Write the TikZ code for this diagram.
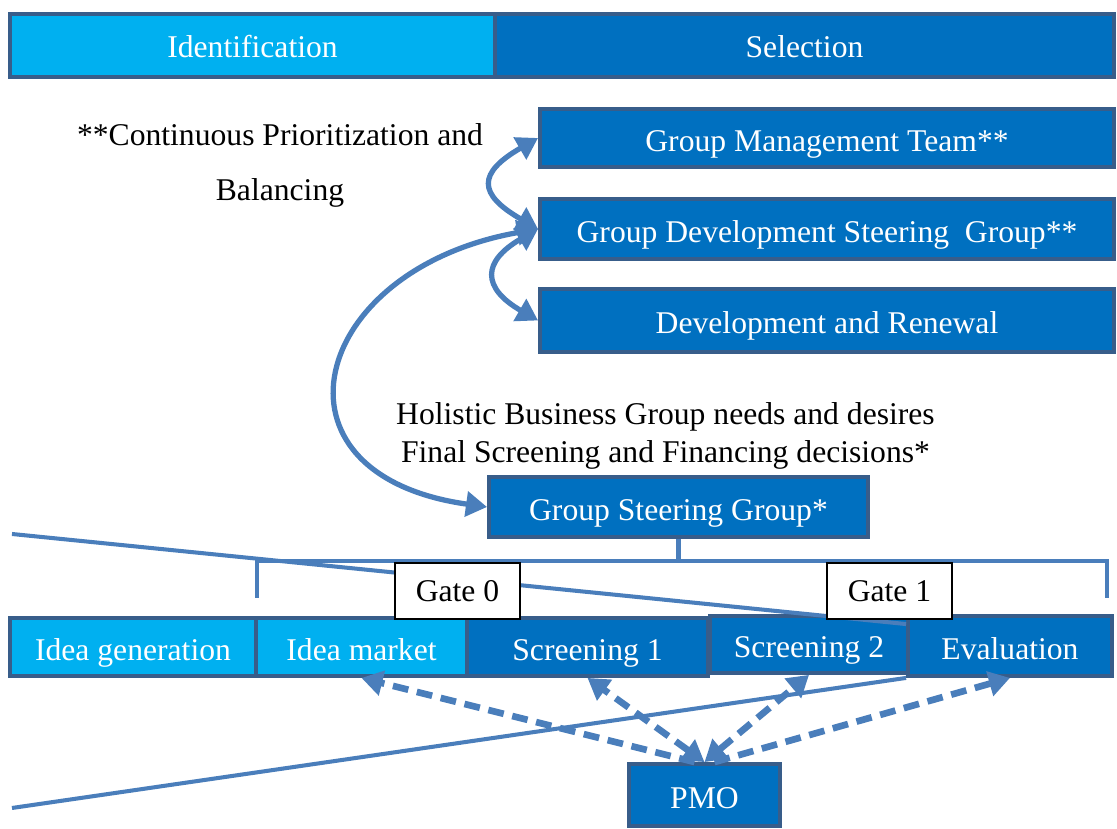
\documentclass[tikz,border=0pt]{standalone}
\usepackage{fontspec}
\setmainfont{Liberation Serif}
\usetikzlibrary{arrows.meta}
\definecolor{cyanfill}{HTML}{00B0F0}
\definecolor{bluefill}{HTML}{0070C0}
\definecolor{boxedge}{HTML}{385D8A}
\definecolor{linkblue}{HTML}{4A7EBB}

\begin{document}
\begin{tikzpicture}[line width=1pt,>={Triangle[length=12pt,width=14pt]},
  font=\fontsize{18}{21.6}\selectfont,
  phasebox/.style={draw=boxedge,line width=2.2pt,fill=bluefill,text=white,inner sep=0pt,text height=15pt,text depth=0pt},
  phaselite/.style={phasebox,fill=cyanfill},
  gatebox/.style={draw=black,line width=0.6pt,fill=white,inner sep=0pt,minimum width=2.5cm,minimum height=1.12cm,text height=12pt,text depth=0pt},
  linkline/.style={linkblue,line width=2.3pt},
  cycarrow/.style={linkblue,line width=3pt,<->},
  pmoarrow/.style={linkblue,line width=3.8pt,dash pattern=on 9pt off 5pt}]
  \useasboundingbox (0,0) rectangle (22.34,16.58);
  % phases (top bar)
  \node[phaselite,minimum width=9.7cm,minimum height=1.26cm,text height=14pt] (ident) at (5.05,15.67) {Identification};
  \node[phasebox,minimum width=12.38cm,minimum height=1.26cm,text height=14pt] (select) at (16.09,15.67) {Selection};
  % management boxes
  \node[phasebox,minimum width=11.48cm,minimum height=1.16cm] (gmt) at (16.54,13.82) {Group Management Team**};
  \node[phasebox,minimum width=11.48cm,minimum height=1.2cm] (gdsg) at (16.54,12.0) {Group Development Steering\ \ Group**};
  \node[phasebox,minimum width=11.48cm,minimum height=1.26cm] (dnr) at (16.54,10.17) {Development and Renewal};
  \node[align=center] (prio) at (5.6,13.27) {**Continuous Prioritization and\\[10.2pt]Balancing};
  % loops between the boards
  \draw[cycarrow] (gmt.west) .. controls +(210:1.4) and +(150:1.4) .. (gdsg.west);
  \draw[cycarrow] (gdsg.west) .. controls +(210:1.3) and +(150:1.3) .. (dnr.west);
  % steering group
  \node[align=center] (needs) at (13.31,7.86) {Holistic Business Group needs and desires\\Final Screening and Financing decisions*};
  \node[phasebox,minimum width=7.58cm,minimum height=1.2cm] (gsg) at (13.57,6.44) {Group Steering Group*};
  \draw[cycarrow] (gdsg.west) .. controls +(190:4.65) and +(172:4.65) .. (gsg.west);
  % bracket down to the gates
  \coordinate (drop0) at (5.14,4.62);
  \coordinate (drop1) at (22.14,4.62);
  \draw[linkline] (gsg.south) -- ++(0,-0.44) coordinate (rail);
  \draw[linkline] (drop0) |- (rail) -| (drop1);
  % process steps
  \node[phaselite,minimum width=4.92cm,minimum height=1.16cm] (idgen) at (2.66,3.64) {Idea generation};
  \node[phaselite,minimum width=4.22cm,minimum height=1.16cm] (idmkt) at (7.23,3.64) {Idea market};
  \node[phasebox,minimum width=4.82cm,minimum height=1.16cm] (scr1) at (11.75,3.64) {Screening 1};
  \node[phasebox,minimum width=3.96cm,minimum height=1.14cm] (scr2) at (16.18,3.69) {Screening 2};
  \node[phasebox,minimum width=4.08cm,minimum height=1.2cm] (eval) at (20.2,3.66) {Evaluation};
  % funnel
  \coordinate (ftop) at (0.24,5.9);
  \coordinate (fbot) at (0.24,0.42);
  \draw[linkline] (ftop) -- ([yshift=-0.2cm]eval.north west);
  % gates
  \node[gatebox] (gate0) at (9.15,4.76) {Gate 0};
  \node[gatebox] (gate1) at (17.79,4.76) {Gate 1};
  % PMO and its links
  \node[phasebox,minimum width=3.02cm,minimum height=1.24cm] (pmo) at (14.09,0.68) {PMO};
  \draw[pmoarrow,->] ([xshift=-0.2cm]pmo.north) -- (idmkt.south);
  \draw[pmoarrow,<->] (pmo.north) -- (scr1.south);
  \draw[pmoarrow,<->] (pmo.north) -- (scr2.south);
  \draw[pmoarrow,->] ([xshift=0.2cm]pmo.north) -- (eval.south);
  \draw[linkline] (fbot) -- (eval.south west);
\end{tikzpicture}
\end{document}
